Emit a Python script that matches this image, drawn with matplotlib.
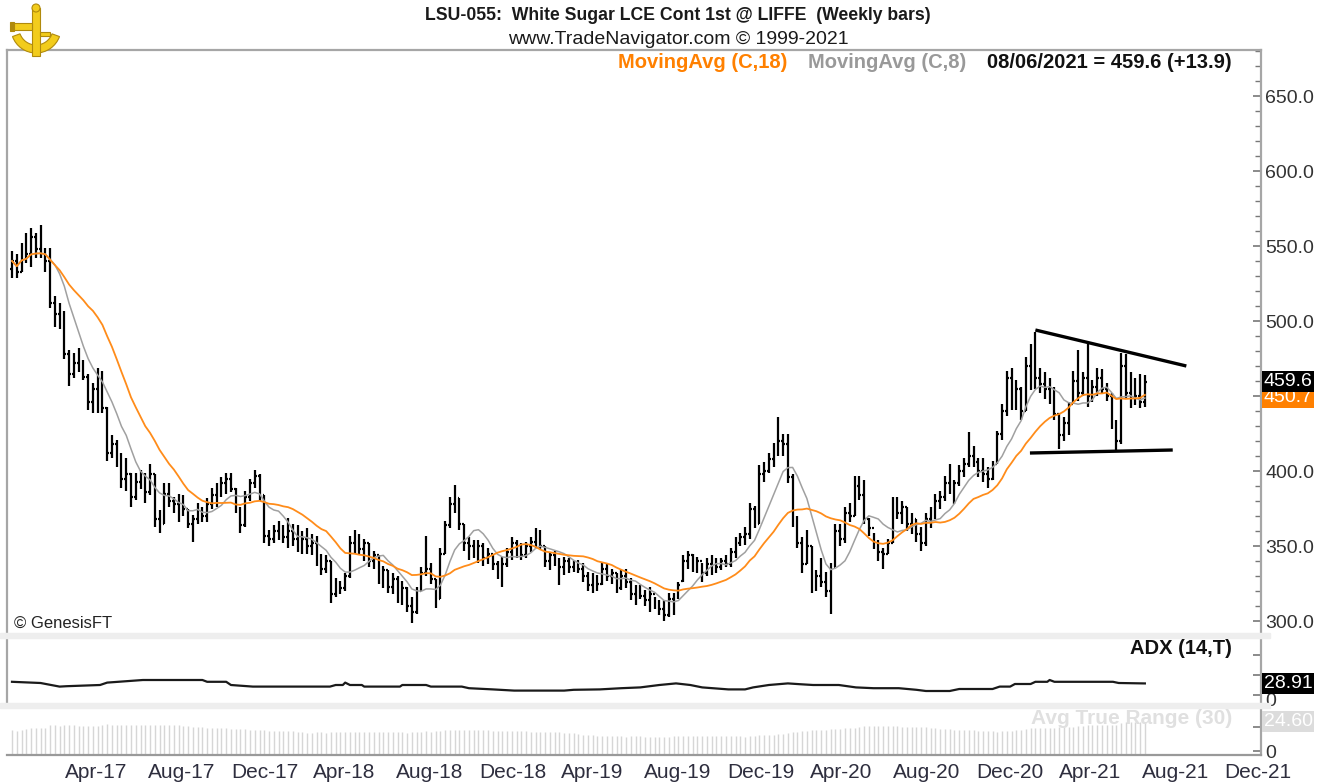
import numpy as np
import pandas as pd
import matplotlib
matplotlib.use("Agg")
import matplotlib.pyplot as plt
import matplotlib.dates as mdates
from matplotlib import font_manager as fm
from matplotlib.patches import Rectangle, Wedge, Circle
from matplotlib.transforms import blended_transform_factory, ScaledTranslation
from matplotlib.ticker import MultipleLocator, FormatStrFormatter

# ---------------- data (weekly bars, first bar on this Friday) ----------------
first_week = "2017-01-13"

opens = [
    535, 540, 533, 548, 545, 556, 548, 546, 540, 512,
    505, 500, 478, 465, 472, 470, 463, 446, 455, 462,
    442, 412, 418, 408, 395, 398, 383, 393, 392, 386,
    398, 368, 365, 385, 380, 378, 372, 375, 365, 368,
    372, 370, 378, 384, 388, 392, 395, 388, 375, 364,
    383, 392, 397, 384, 357, 355, 360, 358, 356, 360,
    355, 350, 355, 350, 352, 340, 335, 340, 318, 324,
    322, 330, 352, 350, 348, 352, 340, 344, 330, 334,
    323, 328, 318, 322, 310, 306, 320, 332, 335, 328,
    315, 345, 364, 378, 382, 365, 352, 350, 346, 350,
    342, 345, 338, 333, 338, 346, 352, 348, 344, 350,
    353, 356, 350, 340, 344, 340, 336, 340, 336, 338,
    335, 330, 324, 328, 325, 335, 330, 332, 322, 330,
    326, 318, 320, 317, 314, 318, 310, 308, 304, 315,
    316, 327, 340, 344, 336, 340, 332, 338, 340, 336,
    340, 338, 346, 352, 356, 358, 375, 365, 398, 400,
    408, 413, 420, 418, 396, 366, 352, 338, 350, 322,
    330, 326, 320, 336, 360, 355, 372, 370, 390, 384,
    368, 362, 352, 346, 345, 352, 378, 372, 376, 365,
    368, 358, 352, 368, 372, 380, 383, 392, 388, 392,
    400, 405, 410, 406, 400, 398, 395, 405, 425, 440,
    462, 446, 455, 440, 470, 460, 462, 458, 455, 450,
    438, 424, 432, 445, 460, 452, 462, 450, 456, 462,
    455, 450, 432, 420, 470, 452, 460, 450, 446,
]
highs = [
    547, 545, 552, 559, 562, 559, 564, 549, 549, 517,
    512, 507, 481, 479, 482, 474, 465, 459, 469, 467,
    443, 424, 421, 412, 409, 399, 399, 401, 399, 405,
    398, 374, 392, 392, 383, 385, 384, 375, 371, 379,
    376, 382, 389, 392, 396, 399, 399, 389, 376, 387,
    395, 401, 398, 384, 361, 364, 367, 364, 369, 365,
    364, 360, 362, 358, 357, 345, 344, 340, 329, 327,
    332, 357, 361, 358, 355, 352, 347, 344, 337, 334,
    332, 330, 327, 323, 316, 323, 336, 357, 339, 328,
    349, 367, 383, 391, 382, 365, 356, 354, 354, 352,
    349, 345, 340, 343, 349, 356, 354, 352, 353, 356,
    362, 361, 350, 346, 347, 342, 343, 342, 341, 341,
    339, 333, 332, 331, 339, 338, 335, 332, 334, 335,
    329, 324, 324, 321, 323, 316, 314, 314, 319, 319,
    326, 344, 347, 345, 343, 339, 342, 344, 342, 342,
    344, 349, 356, 359, 363, 379, 377, 404, 406, 412,
    419, 436, 425, 425, 398, 370, 356, 361, 350, 334,
    342, 333, 339, 365, 365, 376, 379, 397, 397, 394,
    369, 359, 354, 349, 355, 383, 383, 380, 376, 372,
    368, 363, 372, 376, 385, 387, 397, 405, 394, 404,
    409, 426, 417, 409, 409, 403, 407, 427, 445, 467,
    469, 461, 456, 476, 485, 493, 469, 466, 462, 456,
    439, 436, 446, 467, 481, 466, 485, 461, 469, 468,
    459, 452, 434, 479, 478, 466, 462, 465, 464,
]
lows = [
    529, 529, 533, 539, 536, 542, 542, 533, 509, 496,
    495, 475, 457, 462, 466, 461, 441, 439, 439, 439,
    407, 409, 403, 389, 387, 376, 381, 388, 379, 384,
    363, 359, 365, 376, 372, 366, 370, 362, 353, 365,
    366, 366, 375, 376, 383, 385, 386, 372, 359, 363,
    380, 389, 380, 352, 350, 352, 354, 352, 349, 350,
    346, 345, 345, 344, 337, 331, 332, 312, 316, 318,
    320, 329, 345, 344, 340, 336, 335, 325, 322, 319,
    318, 312, 311, 306, 299, 305, 320, 330, 325, 309,
    315, 345, 362, 372, 361, 347, 341, 342, 339, 337,
    338, 334, 328, 323, 336, 341, 342, 341, 342, 346,
    349, 348, 336, 334, 337, 324, 331, 332, 333, 332,
    326, 320, 319, 320, 324, 327, 325, 319, 321, 322,
    314, 311, 315, 310, 306, 308, 304, 300, 303, 304,
    315, 326, 335, 333, 332, 326, 330, 331, 332, 334,
    336, 336, 342, 350, 351, 355, 362, 365, 393, 399,
    403, 410, 410, 392, 363, 349, 332, 338, 319, 320,
    323, 316, 305, 336, 350, 352, 366, 370, 381, 365,
    357, 348, 340, 335, 345, 352, 368, 365, 360, 358,
    353, 347, 350, 362, 368, 375, 380, 385, 378, 390,
    396, 403, 403, 396, 393, 389, 394, 405, 421, 437,
    441, 441, 434, 440, 454, 455, 452, 448, 445, 434,
    415, 420, 424, 445, 447, 450, 443, 446, 450, 452,
    447, 428, 414, 418, 448, 442, 444, 442, 443,
]
closes = [
    540, 533, 548, 545, 556, 548, 546, 540, 512, 505,
    500, 478, 465, 472, 470, 463, 446, 455, 462, 442,
    412, 418, 408, 395, 398, 383, 393, 392, 386, 398,
    368, 365, 385, 380, 378, 372, 375, 365, 368, 372,
    370, 378, 384, 388, 392, 395, 388, 375, 364, 383,
    392, 397, 384, 357, 355, 360, 358, 356, 360, 355,
    350, 355, 350, 352, 340, 335, 340, 318, 324, 322,
    330, 352, 350, 348, 352, 340, 344, 330, 334, 323,
    328, 318, 322, 310, 306, 320, 332, 335, 328, 315,
    345, 364, 378, 382, 365, 352, 350, 346, 350, 342,
    345, 338, 333, 338, 346, 352, 348, 344, 350, 353,
    356, 350, 340, 344, 340, 336, 340, 336, 338, 335,
    330, 324, 328, 325, 335, 330, 332, 322, 330, 326,
    318, 320, 317, 314, 318, 310, 308, 304, 315, 316,
    324, 340, 344, 336, 340, 332, 338, 340, 336, 340,
    338, 346, 352, 356, 358, 375, 365, 398, 400, 408,
    413, 420, 418, 396, 366, 352, 338, 350, 322, 330,
    326, 320, 336, 360, 355, 372, 370, 390, 384, 368,
    362, 352, 346, 345, 352, 378, 372, 376, 365, 368,
    358, 352, 368, 372, 380, 383, 392, 388, 392, 400,
    405, 410, 406, 400, 398, 395, 405, 425, 440, 462,
    446, 455, 440, 470, 460, 462, 458, 455, 450, 438,
    424, 432, 445, 460, 452, 462, 450, 456, 462, 455,
    450, 432, 420, 470, 452, 460, 450, 445.7, 459.6,
]

# ADX (14,T): (week number from first bar, value)
adx_weeks = [0, 6, 10, 11.5, 18.5, 20, 27.5, 40, 41, 45, 46, 50.6, 66.8, 68, 69.5,
             70, 71, 73.5, 74, 81.5, 82, 87, 88, 94.5, 96, 101, 105.5, 116, 118,
             123.5, 128, 132, 136, 139.5, 142.5, 145, 150.5, 154, 155.7, 159, 163,
             165.5, 168.3, 173.7, 177.3, 181, 186.3, 190, 192, 197, 199, 206,
             207.5, 209.7, 210.7, 214, 215, 217.5, 218, 219, 231.3, 232.5, 238]
adx_values = [33, 30, 21, 22, 25, 31, 37.5, 37.5, 33, 33, 25, 21, 21, 25, 25,
              31, 25, 25, 21, 21, 25, 25, 21, 21, 17, 14, 11, 11, 13,
              14, 17, 19, 25, 29, 25, 19, 14, 14, 19, 25, 29,
              27, 25, 25, 19, 17, 17, 13, 10, 10, 15, 15,
              21, 21, 27.5, 27.5, 33, 33, 37.5, 33, 33, 30, 28.91]

# hand-drawn trendlines (date, price)
upper_trend = [("2021-02-26", 494), ("2021-10-06", 470)]
lower_trend = [("2021-02-18", 412), ("2021-09-16", 414)]

tick_months = ["2017-04-01", "2017-08-01", "2017-12-01", "2018-04-01", "2018-08-01",
               "2018-12-01", "2019-04-01", "2019-08-01", "2019-12-01", "2020-04-01",
               "2020-08-01", "2020-12-01", "2021-04-01", "2021-08-01", "2021-12-01"]
tick_labels = ["Apr-17", "Aug-17", "Dec-17", "Apr-18", "Aug-18", "Dec-18", "Apr-19",
               "Aug-19", "Dec-19", "Apr-20", "Aug-20", "Dec-20", "Apr-21", "Aug-21", "Dec-21"]

# ---------------- fonts ----------------
names = {f.name for f in fm.fontManager.ttflist}
NARROW = "Liberation Sans Narrow" if "Liberation Sans Narrow" in names else "Liberation Sans"
plt.rcParams["font.family"] = [NARROW, "DejaVu Sans"]

# ---------------- derived series ----------------
n = len(closes)
dates = pd.date_range(first_week, periods=n, freq="7D")
xd = mdates.date2num(dates.to_pydatetime())
o = np.array(opens, float); h = np.array(highs, float)
l = np.array(lows, float); c = np.array(closes, float)
cs = pd.Series(c)
ma18 = cs.rolling(18, min_periods=1).mean().values
ma8 = cs.rolling(8, min_periods=1).mean().values
prev_c = np.r_[c[0], c[:-1]]
tr = np.maximum.reduce([h - l, np.abs(h - prev_c), np.abs(l - prev_c)])
atr = pd.Series(tr).rolling(30, min_periods=1).mean().values
adx_x = xd[0] + 7.0 * np.array(adx_weeks)

# ---------------- figure layout ----------------
W, H = 1336, 782
fig = plt.figure(figsize=(W / 100, H / 100), dpi=100)
fig.patch.set_facecolor("white")
def fx(px): return px / W
def fy(py): return 1 - py / H

L, R = 7, 1261
ax = fig.add_axes([fx(L), fy(633), (R - L) / W, (633 - 50) / H])
ax2 = fig.add_axes([fx(L), fy(703), (R - L) / W, (703 - 638) / H], sharex=ax)
ax3 = fig.add_axes([fx(L), fy(755), (R - L) / W, (755 - 708) / H], sharex=ax)

for yy in (633, 703):
    fig.patches.append(Rectangle((0, fy(yy + 5)), 1270 / W, 5 / H,
                                 transform=fig.transFigure, color="#eeeeee", zorder=0))

# small golden sextant-like emblem (top-left logo), drawn in a pixel-scaled inset
lg = fig.add_axes([fx(6), fy(60), 58 / W, 58 / H], zorder=30)
lg.set_xlim(0, 58); lg.set_ylim(0, 58); lg.axis("off")
gold, dgold = "#f2cc1c", "#b08a0c"
lg.add_patch(Wedge((30, 32), 25, 200, 340, width=8, fc=gold, ec=dgold, lw=0.8))
lg.add_patch(Rectangle((26, 4), 8, 48, fc=gold, ec=dgold, lw=0.8))
lg.add_patch(Rectangle((6, 30), 20, 7, fc=gold, ec=dgold, lw=0.8))
lg.add_patch(Rectangle((4, 29), 4, 9, fc=dgold, ec=dgold, lw=0.8))
lg.add_patch(Circle((30, 52), 4, fc=gold, ec=dgold, lw=0.8))
lg.add_patch(Rectangle((34, 24), 10, 4, fc=gold, ec=dgold, lw=0.8))

SPC = "#a6a6a6"
xmin = xd[0] - 7.35
xmax = xd[0] + 262.4 * 7
ax.set_xlim(xmin, xmax)

# ---------------- main price panel ----------------
ax.set_ylim(292, 680.67)
d = 2.6
ax.vlines(xd, l, h, color="black", lw=1.6, zorder=3)
ax.hlines(o, xd - d, xd, color="black", lw=1.6, zorder=3)
ax.hlines(c, xd, xd + d, color="black", lw=1.6, zorder=3)
ax.plot(xd, ma8, color="#a0a0a0", lw=1.1, zorder=4)
ax.plot(xd, ma18, color="#ff8c1a", lw=1.3, zorder=4)
for tl in (upper_trend, lower_trend):
    tx = mdates.date2num([pd.Timestamp(t[0]).to_pydatetime() for t in tl])
    ty = [t[1] for t in tl]
    ax.plot(tx, ty, color="black", lw=2.4, solid_capstyle="butt", zorder=5)

for s in ("top", "left", "right"):
    ax.spines[s].set_color(SPC)
    ax.spines[s].set_linewidth(1.6)
ax.spines["bottom"].set_visible(False)
ax.yaxis.tick_right()
ax.yaxis.set_major_locator(MultipleLocator(50))
ax.yaxis.set_minor_locator(MultipleLocator(10))
ax.yaxis.set_major_formatter(FormatStrFormatter("%.1f"))
ax.tick_params(axis="y", which="major", direction="in", length=6, width=1.2,
               color="#777777", labelsize=14, labelcolor="#333333", pad=3)
ax.tick_params(axis="y", which="minor", direction="in", length=4, width=1.0, color="#777777")
ax.tick_params(axis="x", which="both", bottom=False, labelbottom=False)

bt = blended_transform_factory(ax.transAxes, ax.transData)
ax.text(1.002, ma18[-1] - 1.5, f"{ma18[-1]:.1f}", transform=bt, ha="left", va="center",
        fontsize=14, color="white",
        bbox=dict(boxstyle="square,pad=0.1", fc="#ff8000", ec="none"), zorder=10, clip_on=False)
ax.text(1.002, c[-1], f"{c[-1]:.1f}", transform=bt, ha="left", va="center",
        fontsize=14, color="white",
        bbox=dict(boxstyle="square,pad=0.1", fc="black", ec="none"), zorder=11, clip_on=False)

# ---------------- ADX panel ----------------
ax2.set_ylim(-20, 142.5)
ax2.plot(adx_x, adx_values, color="#1a1a1a", lw=1.6)
ax2.spines["top"].set_visible(False)
ax2.spines["bottom"].set_visible(False)
for s in ("left", "right"):
    ax2.spines[s].set_color(SPC)
    ax2.spines[s].set_linewidth(1.6)
ax2.yaxis.tick_right()
ax2.set_yticks([0, 50, 100])
ax2.set_yticklabels(["0", "", ""])
ax2.tick_params(axis="y", direction="in", length=6, width=1.2, color="#777777",
                labelsize=14, labelcolor="#333333", pad=3)
ax2.tick_params(axis="x", which="both", bottom=False, labelbottom=False)
for lab in ax2.get_yticklabels():
    lab.set_transform(lab.get_transform() + ScaledTranslation(0, -5 / 100, fig.dpi_scale_trans))
bt2 = blended_transform_factory(ax2.transAxes, ax2.transData)
ax2.text(1.002, adx_values[-1], f"{adx_values[-1]:.2f}", transform=bt2, ha="left",
         va="center", fontsize=14, color="white",
         bbox=dict(boxstyle="square,pad=0.1", fc="black", ec="none"), zorder=10, clip_on=False)

# ---------------- ATR panel ----------------
ax3.set_ylim(-3, 36)
ax3.vlines(xd, -3, atr, color="#d6d6d6", lw=1.0)
for s in ("top", "left"):
    ax3.spines[s].set_visible(False)
ax3.spines["right"].set_color(SPC)
ax3.spines["right"].set_linewidth(1.6)
ax3.spines["bottom"].set_color("#999999")
ax3.spines["bottom"].set_linestyle((0, (1, 1)))
ax3.spines["bottom"].set_linewidth(1.6)
ax3.yaxis.tick_right()
ax3.set_yticks([0, 20])
ax3.set_yticklabels(["0", ""])
ax3.tick_params(axis="y", direction="in", length=6, width=1.2, color="#777777",
                labelsize=14, labelcolor="#333333", pad=3)
bt3 = blended_transform_factory(ax3.transAxes, ax3.transData)
ax3.text(1.002, atr[-1], f"{atr[-1]:.2f}", transform=bt3, ha="left", va="center",
         fontsize=14, color="white",
         bbox=dict(boxstyle="square,pad=0.1", fc="#dcdcdc", ec="none"), zorder=10, clip_on=False)

tick_x = mdates.date2num([pd.Timestamp(t).to_pydatetime() for t in tick_months])
ax3.set_xticks(tick_x)
ax3.set_xticklabels(tick_labels)
ax3.tick_params(axis="x", length=0, pad=6, labelsize=15, labelcolor="#2e2e3e")
for lab in ax3.get_xticklabels():
    lab.set_ha("left")
ax.set_xlim(xmin, xmax)

# ---------------- texts ----------------
fig.text(fx(678), fy(16), "LSU-055:  White Sugar LCE Cont 1st @ LIFFE  (Weekly bars)",
         ha="center", va="center", fontsize=12.7, fontweight="bold", color="#1a1a1a")
fig.text(fx(678), fy(40), "www.TradeNavigator.com \u00a9 1999-2021",
         ha="center", va="center", fontsize=14, color="#1a1a1a")
fig.text(fx(618), fy(63), "MovingAvg (C,18)", ha="left", va="center",
         fontsize=14.5, fontweight="bold", color="#ff8000")
fig.text(fx(808), fy(63), "MovingAvg (C,8)", ha="left", va="center",
         fontsize=14.5, fontweight="bold", color="#999999")
fig.text(fx(1232), fy(63), "08/06/2021 = 459.6 (+13.9)", ha="right", va="center",
         fontsize=14.5, fontweight="bold", color="#111111")
fig.text(fx(14), fy(623), "\u00a9 GenesisFT", ha="left", va="center",
         fontsize=12, color="#222222")
fig.text(fx(1232), fy(649), "ADX (14,T)", ha="right", va="center",
         fontsize=14.5, fontweight="bold", color="#111111")
fig.text(fx(1232), fy(718), "Avg True Range (30)", ha="right", va="center",
         fontsize=15, fontweight="bold", color="#e0e0e0")

fig.savefig("out.png", dpi=100, facecolor="white")
